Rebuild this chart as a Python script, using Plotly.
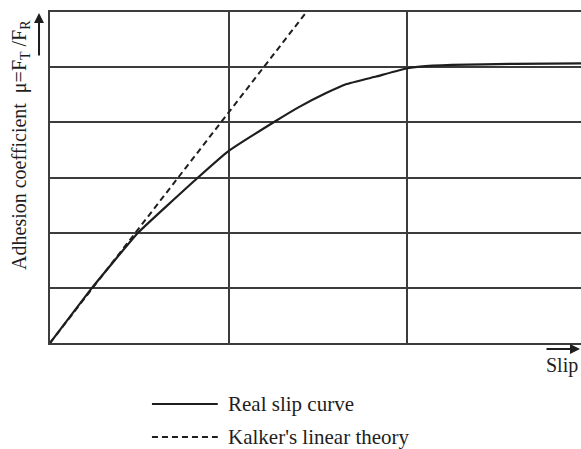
import plotly.graph_objects as go

# Data
slip_real = [0, 0.235, 0.49, 0.828, 0.995, 1.256, 1.395, 1.545, 1.656, 1.824, 2.0, 2.07, 2.25, 2.6, 2.971]
mu_real = [0, 1.0, 1.99, 3.0, 3.47, 4.01, 4.28, 4.53, 4.69, 4.83, 4.98, 5.01, 5.04, 5.06, 5.07]
slip_kalker = [0, 1.435]
mu_kalker = [0, 6.0]
legend_labels = ["Real slip curve", "Kalker's linear theory"]
y_title = "Adhesion coefficient  μ=F<sub>T</sub> /F<sub>R</sub>"
x_title = "Slip"

FONT = "Liberation Serif, Times New Roman, serif"
INK = "#1e1e1e"
GRID = "#3c3c3c"
DASH = "6px,4px"

fig = go.Figure()
fig.add_trace(go.Scatter(x=slip_real, y=mu_real, mode="lines",
                         line=dict(color=INK, width=2.2, shape="spline", smoothing=0.3),
                         showlegend=False, hoverinfo="skip"))
fig.add_trace(go.Scatter(x=slip_kalker, y=mu_kalker, mode="lines",
                         line=dict(color=INK, width=2, dash=DASH),
                         showlegend=False, hoverinfo="skip"))

fig.update_layout(
    width=581, height=449,
    margin=dict(l=50, r=0, t=12, b=106),
    paper_bgcolor="white", plot_bgcolor="white",
    font=dict(family=FONT, color=INK, size=20),
    showlegend=False,
    xaxis=dict(range=[0, 2.971], dtick=1, tick0=0, showgrid=True, gridcolor=GRID, gridwidth=1.5,
               showticklabels=False, ticks="", zeroline=False,
               showline=True, linecolor=GRID, linewidth=1.5, mirror=True),
    yaxis=dict(range=[0, 6], dtick=1, tick0=0, showgrid=True, gridcolor=GRID, gridwidth=1.5,
               showticklabels=False, ticks="", zeroline=False,
               showline=True, linecolor=GRID, linewidth=1.5),
)

# Legend drawn manually (long sample lines)
leg_y = [-0.184, -0.284]
dashes = ["solid", DASH]
for lab, yy, dsh in zip(legend_labels, leg_y, dashes):
    fig.add_shape(type="line", xref="paper", yref="paper", x0=0.192, x1=0.316, y0=yy, y1=yy,
                  line=dict(color=INK, width=2, dash=dsh))
    fig.add_annotation(xref="paper", yref="paper", x=0.331, y=yy, text=lab, showarrow=False,
                       xanchor="left", yanchor="middle", font=dict(size=21))

# Y axis title with arrow
fig.add_annotation(xref="paper", yref="paper", x=-0.0555, y=0.597, text=y_title, textangle=-90,
                   showarrow=False, xanchor="center", yanchor="middle", font=dict(size=20))
fig.add_annotation(xref="paper", yref="paper", x=-0.0207, y=0.997, text="", showarrow=True,
                   ax=0, ay=44, arrowhead=2, arrowsize=1, arrowwidth=2, arrowcolor=INK)

# X axis title with arrow
fig.add_annotation(xref="paper", yref="paper", x=0.998, y=-0.069, text=x_title, showarrow=False,
                   xanchor="right", yanchor="middle", font=dict(size=20))
fig.add_annotation(xref="paper", yref="paper", x=1.0, y=-0.018, text="", showarrow=True,
                   ax=-36, ay=0, arrowhead=2, arrowsize=1, arrowwidth=2, arrowcolor=INK)

fig.write_html(
    "out.html",
    config={"displayModeBar": False},
    post_script="document.body.style.margin='0';document.body.style.overflow='hidden';",
)
